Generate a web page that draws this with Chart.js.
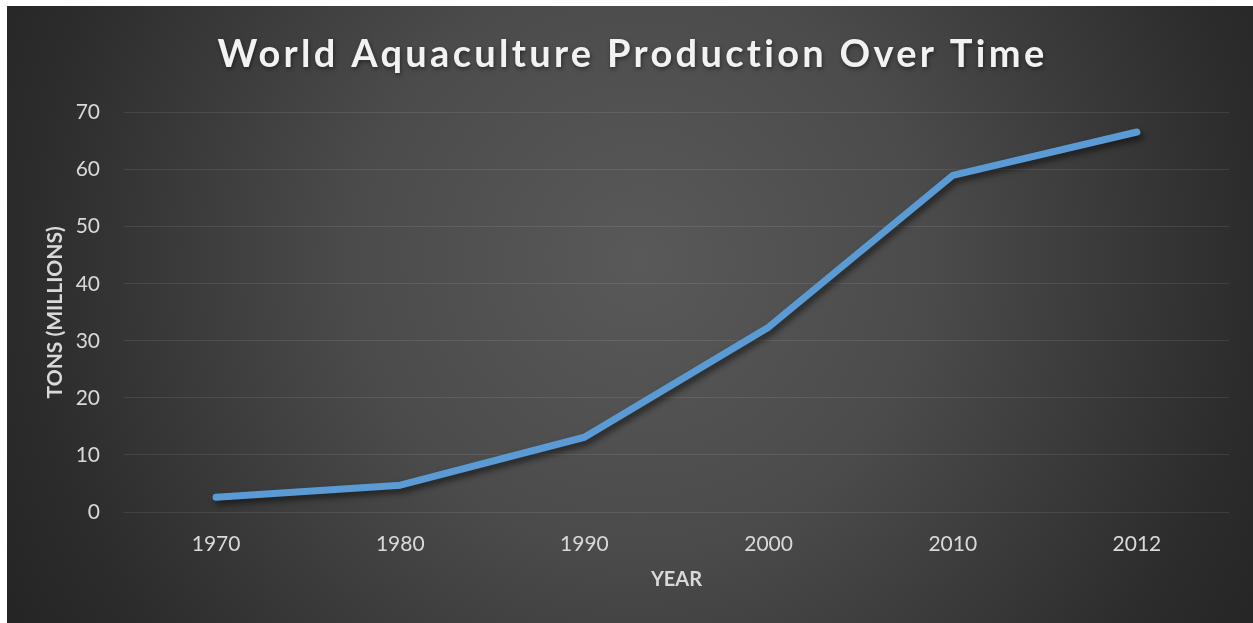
<!DOCTYPE html>
<html>
<head>
<meta charset="utf-8">
<title>World Aquaculture Production Over Time</title>
<script src="https://cdn.jsdelivr.net/npm/chart.js@4.4.1/dist/chart.umd.min.js"></script>
<style>
    html, body { margin: 0; padding: 0; background: #ffffff; }
    #chartWrap { width: 1253px; height: 623px; }
</style>
</head>
<body>
<div id="chartWrap"><canvas id="chartAquaculture" width="1253" height="623"></canvas></div>
<script>
// dados
const anos = ['1970', '1980', '1990', '2000', '2010', '2012'];
const producao = [2.6, 4.7, 13.1, 32.4, 59.0, 66.6];
const yMin = 0;
const yMax = 70;
const yStep = 10;

const tituloGrafico = 'World Aquaculture Production Over Time';
const tituloEixoX = 'YEAR';
const tituloEixoY = 'TONS (MILLIONS)';

const FONTE = 'Lato, "Open Sans", sans-serif';

// fundo escuro com degradê radial
const fundoPlugin = {
    id: 'fundo',
    beforeDraw(chart) {
        const { ctx, width, height } = chart;
        const x0 = 7, y0 = 6;
        ctx.save();
        ctx.fillStyle = '#ffffff';
        ctx.fillRect(0, 0, width, height);
        const cx = 640, cy = 260;
        const g = ctx.createRadialGradient(cx, cy, 0, cx, cy, 720);
        g.addColorStop(0, '#595959');
        g.addColorStop(0.4, '#4b4b4b');
        g.addColorStop(0.85, '#2c2c2c');
        g.addColorStop(1, '#252525');
        ctx.fillStyle = g;
        ctx.fillRect(x0, y0, width - x0, height - y0);
        ctx.restore();
    }
};

// sombra da linha
const sombraPlugin = {
    id: 'sombra',
    beforeDatasetsDraw(chart) {
        const ctx = chart.ctx;
        ctx.save();
        ctx.shadowColor = 'rgba(0, 0, 0, 0.55)';
        ctx.shadowBlur = 6;
        ctx.shadowOffsetX = 3;
        ctx.shadowOffsetY = 4;
    },
    afterDatasetsDraw(chart) {
        chart.ctx.restore();
    }
};

// espaçamento entre letras no título principal
const tituloPlugin = {
    id: 'tituloEspacado',
    beforeDraw(chart) {
        const tb = chart.titleBlock;
        if (!tb || tb._espacado) return;
        const original = tb.draw;
        tb.draw = function () {
            const c = this.ctx;
            c.save();
            c.translate(18, 0);
            c.letterSpacing = '3.3px';
            c.shadowColor = 'rgba(0, 0, 0, 0.45)';
            c.shadowBlur = 4;
            c.shadowOffsetX = 1;
            c.shadowOffsetY = 2;
            original.call(this);
            c.restore();
        };
        tb._espacado = true;
    }
};

const ctx = document.getElementById('chartAquaculture').getContext('2d');

new Chart(ctx, {
    type: 'line',
    data: {
        labels: anos,
        datasets: [{
            label: 'Production',
            data: producao,
            borderColor: '#5b9bd5',
            borderWidth: 7,
            borderCapStyle: 'round',
            borderJoinStyle: 'round',
            pointRadius: 0,
            pointHoverRadius: 0,
            tension: 0,
            fill: false
        }]
    },
    options: {
        responsive: false,
        animation: false,
        devicePixelRatio: 1,
        layout: { padding: { left: 0, right: 24, top: 0, bottom: 31 } },
        plugins: {
            legend: { display: false },
            tooltip: { enabled: false },
            title: {
                display: true,
                text: tituloGrafico,
                color: '#f2f2f2',
                font: { family: FONTE, size: 38, weight: 'bold', lineHeight: 1.2 },
                padding: { top: 32, bottom: 35 }
            }
        },
        scales: {
            x: {
                offset: true,
                grid: { display: false, drawTicks: false },
                border: { display: false },
                ticks: {
                    color: '#d9d9d9',
                    padding: 20,
                    maxRotation: 0,
                    font: { family: FONTE, size: 21 }
                },
                title: {
                    display: true,
                    text: tituloEixoX,
                    color: '#d9d9d9',
                    font: { family: FONTE, size: 20, weight: 'bold', lineHeight: 1.2 },
                    padding: { top: 12, bottom: 0 }
                },
                afterFit(scale) {
                    scale.height = 80;
                }
            },
            y: {
                min: yMin,
                max: yMax,
                grid: { color: 'rgba(255, 255, 255, 0.09)', lineWidth: 1, drawTicks: false },
                border: { display: false },
                ticks: {
                    stepSize: yStep,
                    color: '#d9d9d9',
                    padding: 24,
                    font: { family: FONTE, size: 21 }
                },
                title: {
                    display: true,
                    text: tituloEixoY,
                    color: '#d9d9d9',
                    font: { family: FONTE, size: 21, weight: 'bold', lineHeight: 1.2 },
                    padding: { top: 43, bottom: 0 }
                },
                afterFit(scale) {
                    scale.width = 124;
                }
            }
        }
    },
    plugins: [fundoPlugin, sombraPlugin, tituloPlugin]
});
</script>
</body>
</html>
